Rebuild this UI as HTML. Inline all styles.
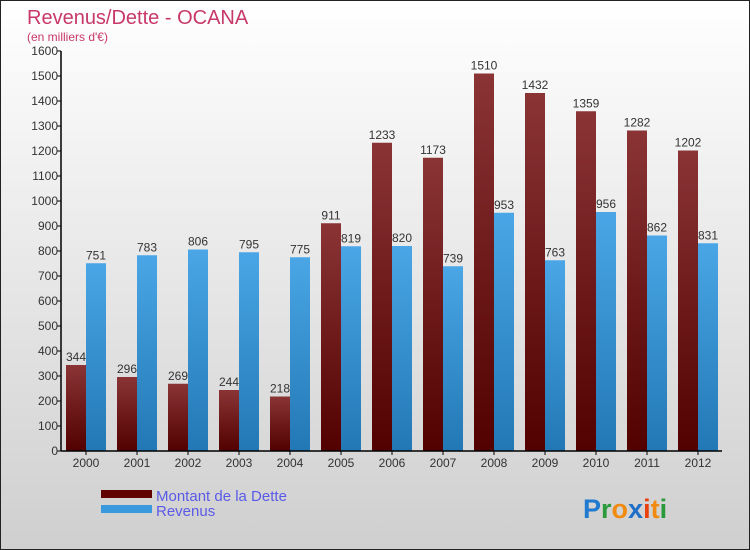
<!DOCTYPE html>
<html><head><meta charset="utf-8"><style>
body{margin:0;}
#wrap{width:750px;height:550px;position:relative;box-sizing:border-box;border:1px solid #222;background:linear-gradient(#ffffff,#cfcfcf);font-family:"Liberation Sans",sans-serif;overflow:hidden;}
svg text{font-family:"Liberation Sans",sans-serif;}
</style></head><body>
<div id="wrap">
<svg id="chart" width="750" height="550">
<defs>
<linearGradient id="gd" x1="0" y1="0" x2="0" y2="1"><stop offset="0" stop-color="#8a3436"/><stop offset="1" stop-color="#520000"/></linearGradient>
<linearGradient id="gr" x1="0" y1="0" x2="0" y2="1"><stop offset="0" stop-color="#4aa6e6"/><stop offset="1" stop-color="#2278b4"/></linearGradient>
</defs>
<text x="26" y="23" font-size="20" fill="#c8386a">Revenus/Dette - OCANA</text>
<text x="26" y="40" font-size="12" fill="#c8386a">(en milliers d'€)</text>
<g id="bars"></g>
<g id="axes"></g>
<rect x="100" y="489" width="51" height="8" fill="#600000"/>
<text x="155" y="500" font-size="15" fill="#5a5ae8">Montant de la Dette</text>
<rect x="100" y="504" width="51" height="8" fill="#3a98dc"/>
<text x="155" y="515" font-size="15" fill="#5a5ae8">Revenus</text>
<text x="582" y="517" font-size="27" font-weight="bold"><tspan fill="#1f7ad0">P</tspan><tspan fill="#2a9a3a">r</tspan><tspan fill="#f08a10">o</tspan><tspan fill="#1f6fc8">x</tspan><tspan fill="#e84010">i</tspan><tspan fill="#f08a10">t</tspan><tspan fill="#2a9a3a">i</tspan></text>
</svg>
</div>
<script>
const years=["2000","2001","2002","2003","2004","2005","2006","2007","2008","2009","2010","2011","2012"];
const dette=[344,296,269,244,218,911,1233,1173,1510,1432,1359,1282,1202];
const revenus=[751,783,806,795,775,819,820,739,953,763,956,862,831];
const yTicks=[0,100,200,300,400,500,600,700,800,900,1000,1100,1200,1300,1400,1500,1600];
const NS="http://www.w3.org/2000/svg";
const y0=450,yTop=50,yMax=1600,x0=60,xEnd=721,cx0=85,step=51,bw=20;
const Y=v=>y0-(v/yMax)*(y0-yTop);
const X=i=>cx0+i*step;
function mk(t,a,p){const e=document.createElementNS(NS,t);for(const k in a)e.setAttribute(k,a[k]);p.appendChild(e);return e;}
const bars=document.getElementById('bars'),axes=document.getElementById('axes');
years.forEach((yr,i)=>{
 const c=X(i);
 let r=mk('rect',{x:c-bw,y:Y(dette[i]),width:bw,height:y0-Y(dette[i]),fill:'url(#gd)'},bars);
 
 
 let r2=mk('rect',{x:c,y:Y(revenus[i]),width:bw,height:y0-Y(revenus[i]),fill:'url(#gr)'},bars);
 
 
 let t=mk('text',{x:c-10,y:Y(dette[i])-4,'font-size':12,fill:'#333','text-anchor':'middle'},bars);t.textContent=dette[i];
 
 
 let t2=mk('text',{x:c+10,y:Y(revenus[i])-4,'font-size':12,fill:'#333','text-anchor':'middle'},bars);t2.textContent=revenus[i];
 
 
 let xl=mk('text',{x:c,y:466,'font-size':12,fill:'#333','text-anchor':'middle'},axes);xl.textContent=yr;
 
 
 mk('line',{x1:c,x2:c,y1:y0,y2:y0+4,stroke:'#000'},axes);
});
yTicks.forEach(v=>{
 mk('line',{x1:x0-4,x2:x0,y1:Y(v),y2:Y(v),stroke:'#000'},axes);
 let t=mk('text',{x:x0-3,y:Y(v)+4,'font-size':12,fill:'#333','text-anchor':'end'},axes);t.textContent=v;
 
 
});
let ya=mk('line',{x1:x0,x2:x0,y1:yTop,y2:y0,stroke:'#000','stroke-width':1.5},axes);


let xa=mk('line',{x1:x0,x2:xEnd,y1:y0,y2:y0,stroke:'#000','stroke-width':1.5},axes);


</script>
</body></html>
